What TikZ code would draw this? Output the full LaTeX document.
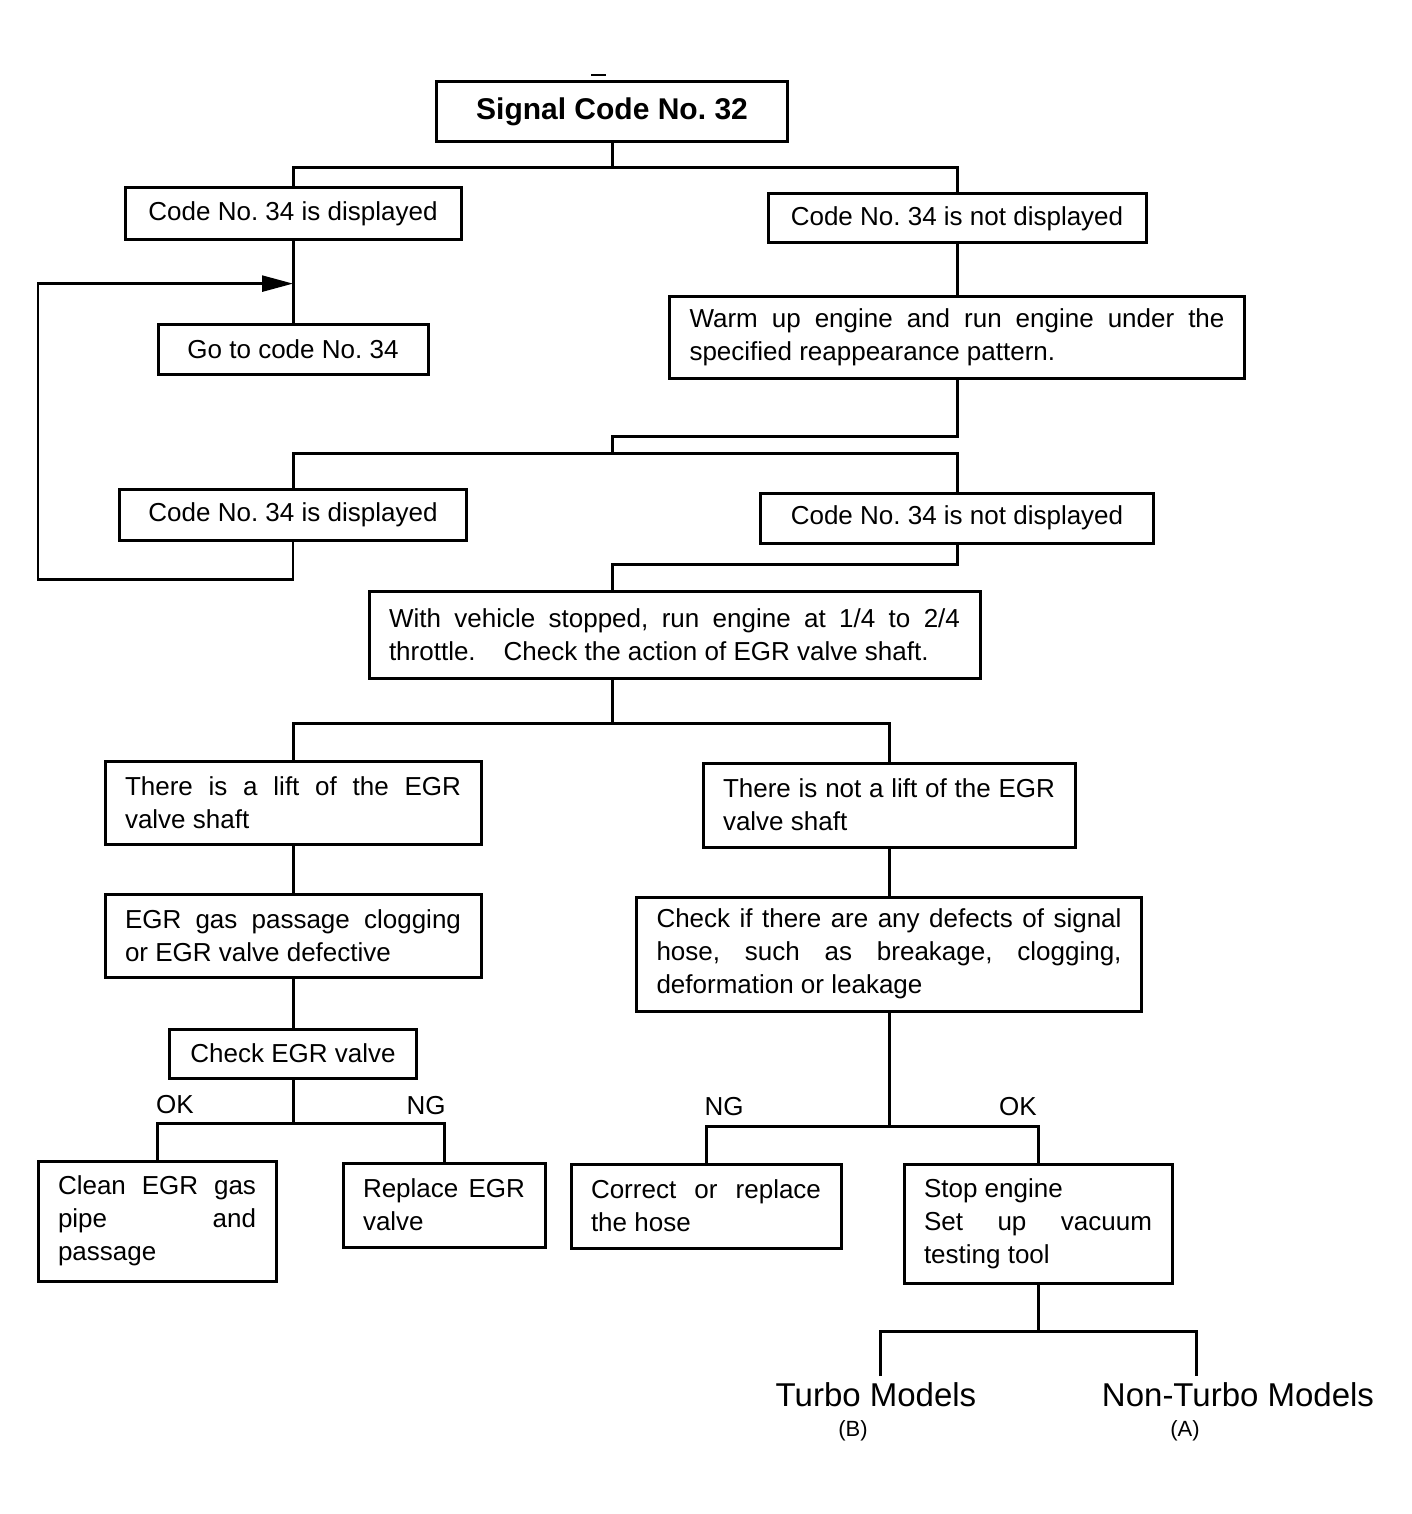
\documentclass[tikz,border=0pt]{standalone}
\usepackage{fontspec}
\setmainfont{Liberation Sans}
\usetikzlibrary{arrows.meta,calc}
\frenchspacing
\newcommand\mytxt{\fontsize{26}{33}\selectfont\frenchspacing\tolerance=10000\hbadness=10000\relax}
\newcommand\mybold{\fontsize{30}{36}\selectfont\bfseries\frenchspacing}
\begin{document}
\begin{tikzpicture}[x=1pt,y=-1pt,
  bbox/.style={draw, line width=3pt, inner ysep=0pt, font=\mytxt},
  one/.style 2 args={bbox, inner xsep=0pt, minimum width=#1, minimum height=#2, align=center},
  mp/.style 2 args={bbox, inner xsep=20pt, text width=#1, minimum height=#2, align=justify},
  ln/.style={line width=3pt},
  lbl/.style={font=\mytxt},
  big/.style={font=\fontsize{33}{38}\selectfont},
  sml/.style={font=\fontsize{22}{26}\selectfont}]
\fill[white] (0,0) rectangle (1411,1514);
\useasboundingbox (0,0) rectangle (1411,1514);
\draw[line width=1.2pt] (591,75) -- (606,75);

\node[one={351pt}{60pt}, font=\mybold] (sig) at (612,112) {Signal Code No. 32};
\node[one={336pt}{52pt}] (d1) at (293,214) {Code No. 34 is displayed};
\node[one={378pt}{49pt}] (n1) at (957,218.5) {Code No. 34 is not displayed};
\node[one={270pt}{50pt}] (go) at (293,349) {Go to code No. 34};
\node[mp={535pt}{82pt}] (warm) at (957,337) {Warm up engine and run engine under the\linebreak specified reappearance pattern.};
\node[one={347pt}{51pt}] (d2) at (293,514.5) {Code No. 34 is displayed};
\node[one={393pt}{50pt}] (n2) at (957,518) {Code No. 34 is not displayed};
\node[mp={571pt}{87pt}] (veh) at (674.5,634.5) {\parfillskip=0pt With vehicle stopped, run engine at 1/4 to 2/4\linebreak throttle.\hspace{0.8em} Check the action of EGR valve shaft.};
\node[mp={336pt}{83pt}] (lift) at (293,802.5) {There is a lift of the EGR\linebreak valve shaft};
\node[mp={332pt}{84pt}] (nlift) at (889,805) {There is not a lift of the EGR\linebreak valve shaft};
\node[mp={336pt}{83pt}] (gas) at (293,935.5) {EGR gas passage clogging\linebreak or EGR valve defective};
\node[mp={465pt}{114pt}] (chk) at (889,954) {Check if there are any defects of signal\linebreak hose, such as breakage, clogging,\linebreak deformation or leakage};
\node[one={247pt}{49pt}] (cegr) at (293,1053.5) {Check EGR valve};
\node[mp={198pt}{120pt}] (clean) at (157,1221) {Clean EGR gas\linebreak pipe and\linebreak passage};
\node[mp={162pt}{84pt}] (repl) at (444,1205) {Replace EGR\linebreak valve};
\node[mp={230pt}{84pt}] (corr) at (706,1206) {Correct or replace\linebreak the hose};
\node[mp={228pt}{119pt}] (stop) at (1038,1223.5) {Stop engine\\Set up vacuum\linebreak testing tool};

\node[lbl, anchor=base] (ok1) at (175,1113) {OK};
\node[lbl, anchor=base] (ng1) at (426,1114) {NG};
\node[lbl, anchor=base] (ng2) at (724,1115) {NG};
\node[lbl, anchor=base] (ok2) at (1018,1115) {OK};

\node[big, anchor=base] (turbo) at (876,1406) {Turbo Models};
\node[big, anchor=base] (nonturbo) at (1238,1406) {Non-Turbo Models};
\node[sml, anchor=base] (bl) at (853,1436) {(B)};
\node[sml, anchor=base] (al) at (1185,1436) {(A)};

\draw[ln] (sig.south) -- ++(0,24) coordinate (t1);
\draw[ln] (d1.north) |- (t1) -| (n1.north);
\draw[ln] (d1.south) -- (go.north);
\coordinate (mid) at ($(d1.south)!0.52!(go.north)$);
\draw[line width=2.5pt, -{Triangle[length=31pt,width=16pt]}] (d2.south) -- ++(0,38) -- ++(-255,0) |- (mid);
\draw[ln] (n1.south) -- (warm.north);
\coordinate (t2) at (612,453);
\draw[ln] (warm.south) -- ++(0,57) -| (t2);
\draw[ln] (d2.north) |- (t2) -| (n2.north);
\draw[ln] (n2.south) -- ++(0,20) -| (veh.north -| sig.south);
\draw[ln] (veh.south -| sig.south) -- ++(0,44) coordinate (t3);
\draw[ln] (lift.north) |- (t3) -| (nlift.north);
\draw[ln] (lift.south) -- (gas.north);
\draw[ln] (gas.south) -- (cegr.north);
\draw[ln] (cegr.south) -- ++(0,44) coordinate (t4);
\draw[ln] (clean.north) |- (t4) -| (repl.north);
\draw[ln] (nlift.south) -- (chk.north);
\draw[ln] (chk.south) -- ++(0,114) coordinate (t5);
\draw[ln] (corr.north) |- (t5) -| (stop.north);
\draw[ln] (stop.south) -- ++(0,47) coordinate (t6);
\coordinate (tb) at (880,1376);
\coordinate (nt) at (1196,1376);
\draw[ln] (tb) |- (t6) -| (nt);
\end{tikzpicture}
\end{document}
